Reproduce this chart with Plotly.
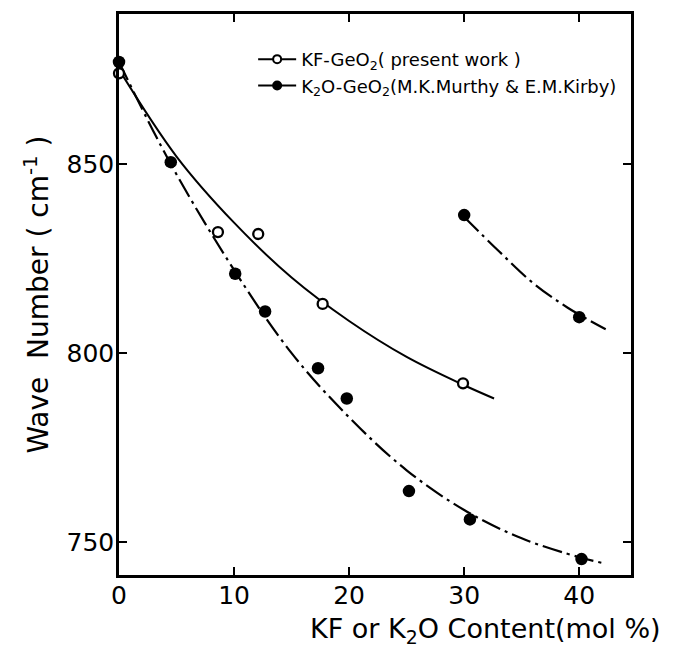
import plotly.graph_objects as go

# ---- measured data ----
kf_x = [0, 8.6, 12.1, 17.7, 29.9]
kf_y = [874, 832, 831.5, 813, 792]

k2o_x = [0, 4.5, 10.1, 12.7, 17.3, 19.8, 25.2, 30.5, 40.2]
k2o_y = [877, 850.5, 821, 811, 796, 788, 763.5, 756, 745.5]

k2o_hi_x = [30, 40]
k2o_hi_y = [836.5, 809.5]

# fitted curves as drawn in the figure
kf_curve_x = [0, 5, 10, 15, 20, 25, 30, 32.6]
kf_curve_y = [875, 852, 834.5, 820, 808.5, 799, 791.5, 788]

k2o_curve_x = [0, 4.5, 10, 15, 20, 25, 30, 35, 40, 42]
k2o_curve_y = [877, 850, 822, 800, 783, 769, 758.5, 751, 746, 744.5]

k2o_hi_curve_x = [30, 33, 36, 39, 42.3]
k2o_hi_curve_y = [836, 827, 818.5, 812, 806.3]

x_ticks = [0, 10, 20, 30, 40]
y_ticks = [750, 800, 850]

FONT = "DejaVu Sans"
DASHDOT = "20px,5px,3px,5px"

fig = go.Figure()

# curves
fig.add_trace(go.Scatter(x=kf_curve_x, y=kf_curve_y, mode="lines",
                         line=dict(color="black", width=2, shape="spline"),
                         showlegend=False, hoverinfo="skip"))
fig.add_trace(go.Scatter(x=k2o_curve_x, y=k2o_curve_y, mode="lines",
                         line=dict(color="black", width=2.2, shape="spline", dash=DASHDOT),
                         showlegend=False, hoverinfo="skip"))
fig.add_trace(go.Scatter(x=k2o_hi_curve_x, y=k2o_hi_curve_y, mode="lines",
                         line=dict(color="black", width=2.2, shape="spline", dash=DASHDOT),
                         showlegend=False, hoverinfo="skip"))

# points
fig.add_trace(go.Scatter(x=kf_x, y=kf_y, mode="markers", cliponaxis=False,
                         marker=dict(symbol="circle", size=10, color="white",
                                     line=dict(color="black", width=2.3)),
                         showlegend=False))
fig.add_trace(go.Scatter(x=k2o_x + k2o_hi_x, y=k2o_y + k2o_hi_y, mode="markers",
                         cliponaxis=False,
                         marker=dict(symbol="circle", size=12.5, color="black"),
                         showlegend=False))

# legend entries
fig.add_trace(go.Scatter(x=[None], y=[None], mode="lines+markers",
                         name="KF-GeO<sub>2</sub>( present work )",
                         line=dict(color="black", width=2),
                         marker=dict(symbol="circle", size=8, color="white",
                                     line=dict(color="black", width=2))))
fig.add_trace(go.Scatter(x=[None], y=[None], mode="lines+markers",
                         name="K<sub>2</sub>O-GeO<sub>2</sub>(M.K.Murthy & E.M.Kirby)",
                         line=dict(color="black", width=2),
                         marker=dict(symbol="circle", size=10, color="black")))

axis_common = dict(showline=True, linecolor="black", linewidth=2.5, mirror="ticks",
                   ticks="inside", ticklen=8, tickwidth=2, tickcolor="black",
                   showgrid=False, zeroline=False,
                   tickfont=dict(family=FONT, size=25, color="black"))

fig.update_xaxes(range=[0, 44.5], tickvals=x_ticks, ticktext=[str(v) for v in x_ticks],
                 ticklabelstandoff=-4, **axis_common)
fig.update_yaxes(range=[741.3, 889.7], tickvals=y_ticks, ticktext=[str(v) for v in y_ticks],
                 ticklabelstandoff=-3, **axis_common)

fig.add_annotation(text="KF or K<sub>2</sub>O Content(mol %)", xref="paper", yref="paper",
                   x=1.063, y=-0.099, xanchor="right", yanchor="middle", showarrow=False,
                   font=dict(family=FONT, size=27, color="black"))
fig.add_annotation(text="Wave  Number ( cm<sup>-1</sup> )", xref="paper", yref="paper",
                   x=-0.16, y=0.5, xanchor="center", yanchor="middle", textangle=-90,
                   showarrow=False, font=dict(family=FONT, size=28, color="black"))

# page body has an 8px margin: figure sized/offset so the plot lands where the reference has it
fig.update_layout(
    width=674, height=641,
    margin=dict(l=111, r=51, t=3, b=74),
    paper_bgcolor="white", plot_bgcolor="white",
    legend=dict(x=0.262, y=0.952, xanchor="left", yanchor="top",
                bgcolor="rgba(0,0,0,0)", borderwidth=0,
                font=dict(family=FONT, size=18, color="black"),
                itemwidth=38, tracegroupgap=4),
    font=dict(family=FONT, color="black"),
)

fig.write_html("out.html")
